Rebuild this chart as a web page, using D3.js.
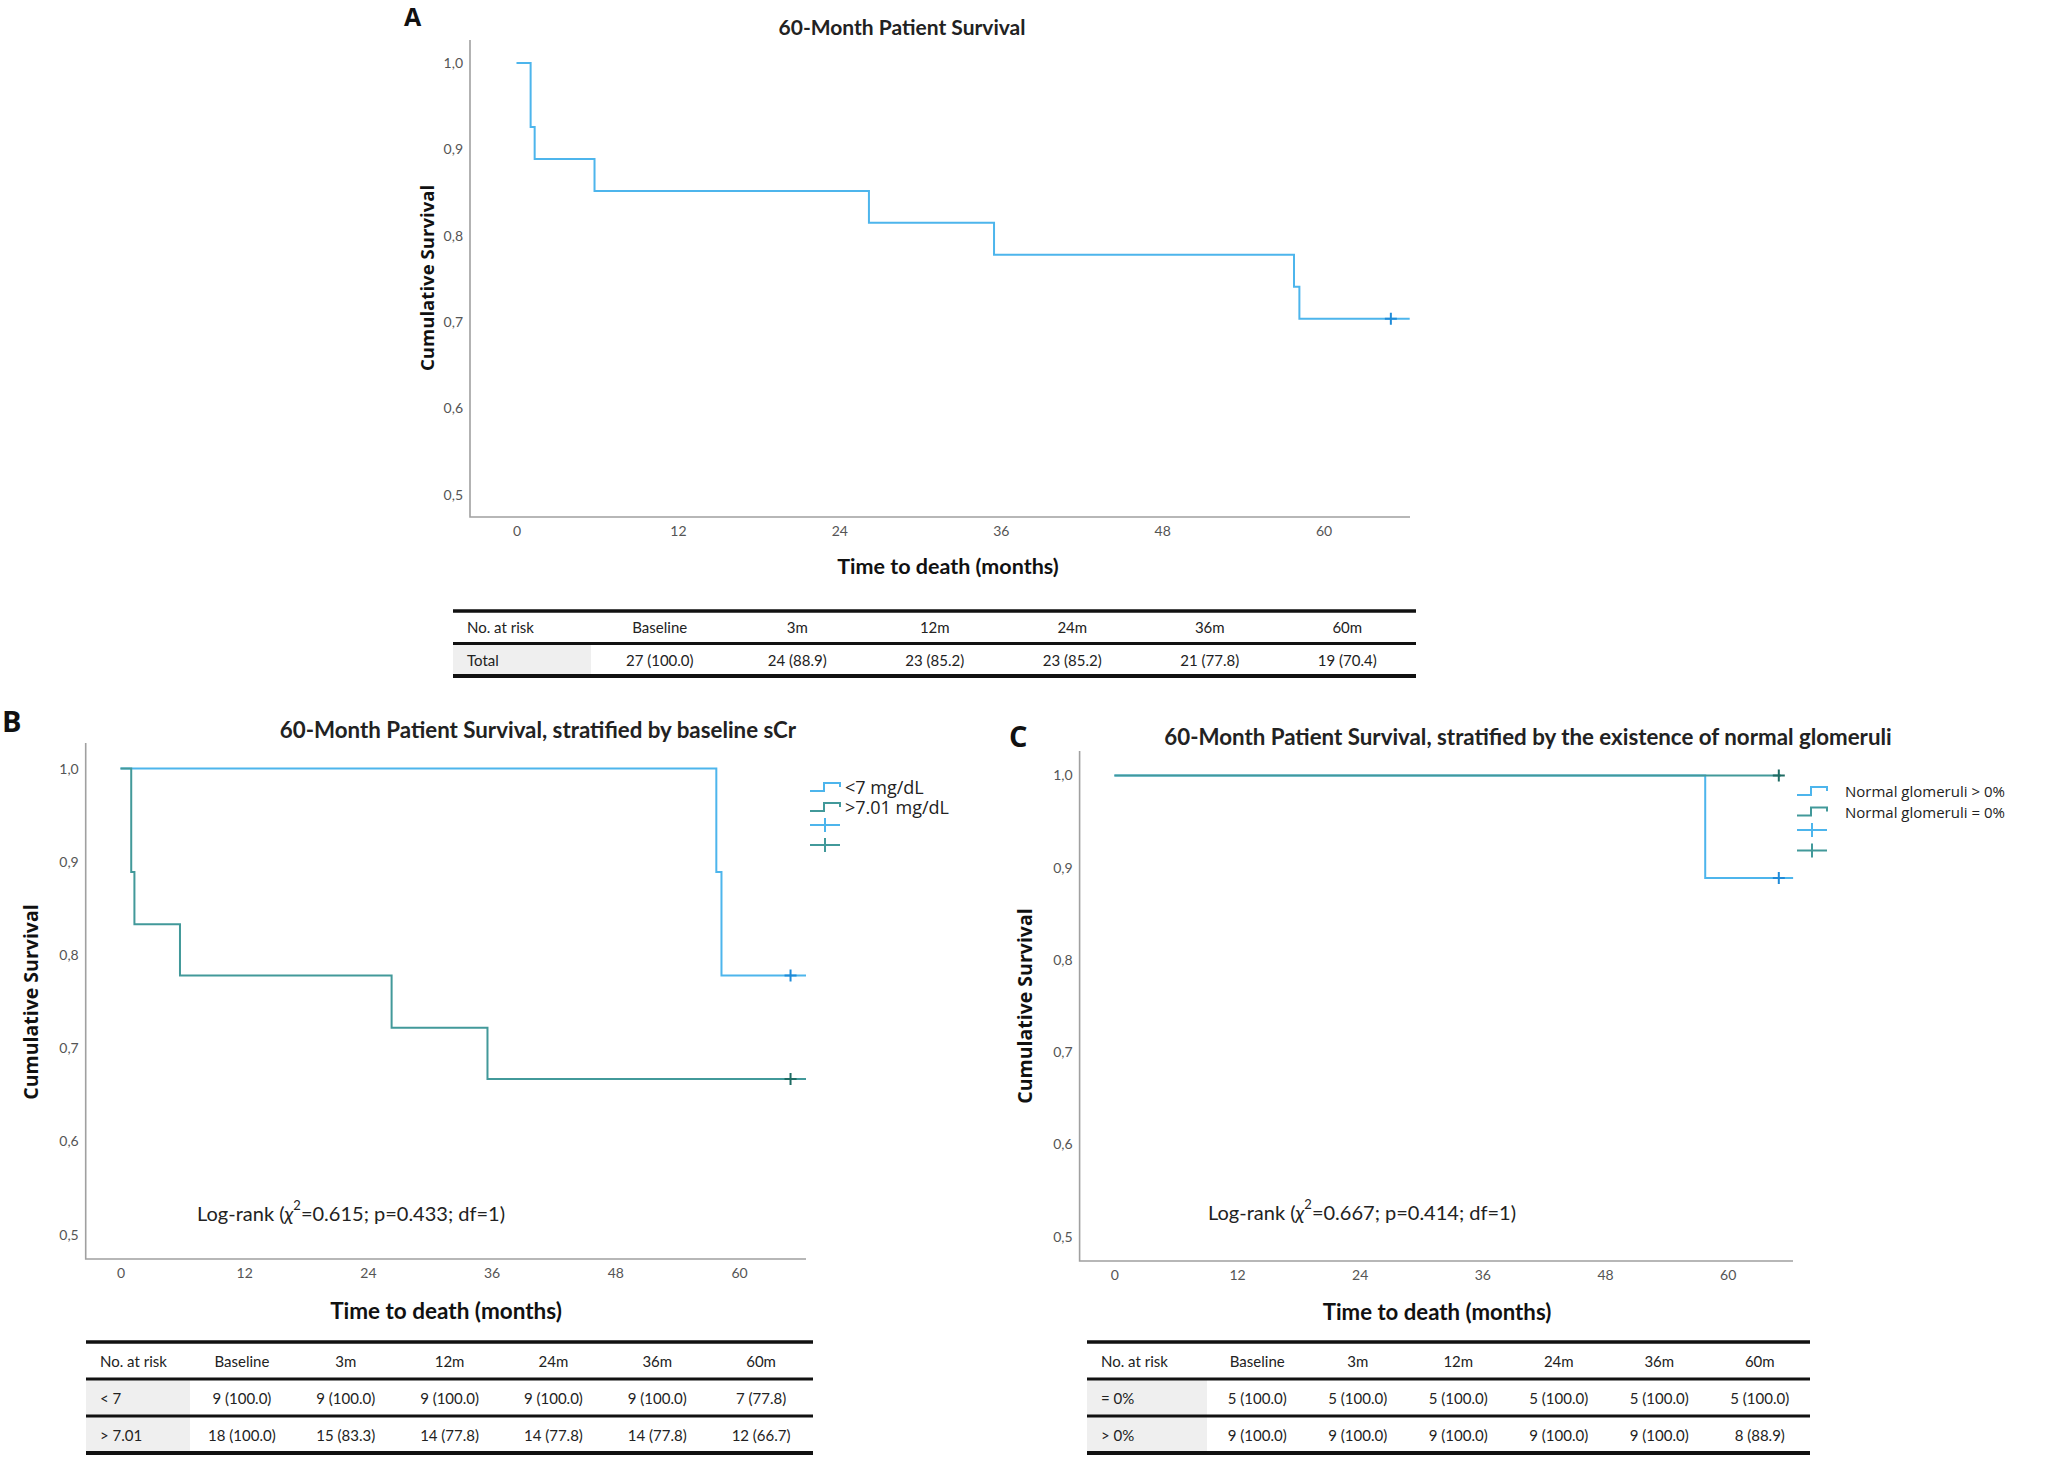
<!DOCTYPE html>
<html>
<head>
<meta charset="utf-8">
<title>60-Month Patient Survival</title>
<script src="https://d3js.org/d3.v7.min.js"></script>
<style>
  body { margin: 0; background: #fff; }
  svg { display: block; }
  .tick text { font-family: Lato, sans-serif; font-size: 14px; fill: #555; }
  .title { font-family: Lato, sans-serif; font-weight: bold; fill: #222; }
  .xtitle { font-family: Lato, sans-serif; font-weight: bold; fill: #111; }
  .ytitle { font-family: "Open Sans", sans-serif; font-weight: bold; fill: #111; }
  .letter { font-family: "Open Sans", sans-serif; font-weight: bold; fill: #111; }
  .legend { font-family: "Open Sans", sans-serif; fill: #222; }
  .logrank { font-family: Lato, sans-serif; font-size: 20px; fill: #222; }
  .cell { font-family: Lato, sans-serif; font-size: 15px; fill: #222; }
</style>
</head>
<body>
<script>
// ---- data ----
const monthTicks = [0, 12, 24, 36, 48, 60];
const survTicks = [0.5, 0.6, 0.7, 0.8, 0.9, 1.0];

// A: whole cohort (n = 27)
const aTimes = [0, 1.05, 1.35, 5.8, 26.2, 35.5, 57.8, 58.2];
const aSurv = [1.0, 0.926, 0.889, 0.852, 0.815, 0.778, 0.741, 0.704];
const aEnd = 66.4;
const aCensor = [65.0];

// B: stratified by baseline sCr
const bLowTimes = [0, 57.8, 58.3];
const bLowSurv = [1.0, 0.889, 0.778];
const bHighTimes = [0, 1.04, 1.35, 5.77, 26.3, 35.6];
const bHighSurv = [1.0, 0.889, 0.833, 0.778, 0.722, 0.667];
const bEnd = 66.5;
const bCensor = [65.0];
const bLegend = ["<7 mg/dL", ">7.01 mg/dL"];

// C: stratified by normal glomeruli
const cPosTimes = [0, 57.8];
const cPosSurv = [1.0, 0.889];
const cPosEnd = 66.4;
const cZeroTimes = [0];
const cZeroSurv = [1.0];
const cZeroEnd = 65.2;
const cCensor = [65.0];
const cLegend = ["Normal glomeruli > 0%", "Normal glomeruli = 0%"];

// number-at-risk tables
const riskHeader = ["No. at risk", "Baseline", "3m", "12m", "24m", "36m", "60m"];
const aRiskLabels = ["Total"];
const aRiskValues = [["27 (100.0)", "24 (88.9)", "23 (85.2)", "23 (85.2)", "21 (77.8)", "19 (70.4)"]];
const bRiskLabels = ["< 7", "> 7.01"];
const bRiskValues = [
  ["9 (100.0)", "9 (100.0)", "9 (100.0)", "9 (100.0)", "9 (100.0)", "7 (77.8)"],
  ["18 (100.0)", "15 (83.3)", "14 (77.8)", "14 (77.8)", "14 (77.8)", "12 (66.7)"]
];
const cRiskLabels = ["= 0%", "> 0%"];
const cRiskValues = [
  ["5 (100.0)", "5 (100.0)", "5 (100.0)", "5 (100.0)", "5 (100.0)", "5 (100.0)"],
  ["9 (100.0)", "9 (100.0)", "9 (100.0)", "9 (100.0)", "9 (100.0)", "8 (88.9)"]
];

const blue = "#4db5ec", blueDark = "#1f8bd8";
const teal = "#42999a", tealDark = "#1e6b63";

const svg = d3.select("body").append("svg")
  .attr("width", 2050)
  .attr("height", 1457);

function fmtComma(d) { return d.toFixed(1).replace(".", ","); }

// one survival plot
function drawPlot(p) {
  const x = d3.scaleLinear().domain([0, 60]).range([p.x0, p.x60]);
  const y = d3.scaleLinear().domain([0.5, 1.0]).range([p.y05, p.y10]);
  const g = svg.append("g");

  // axes lines
  g.append("path")
    .attr("d", `M${p.left},${p.top}V${p.bottom}H${p.right}`)
    .attr("fill", "none").attr("stroke", "#a0a0a0").attr("stroke-width", 1.6);

  const yAxis = d3.axisLeft(y).tickValues(survTicks).tickFormat(fmtComma).tickSize(0).tickPadding(7);
  g.append("g").attr("transform", `translate(${p.left},0)`).call(yAxis)
    .call(s => s.select(".domain").remove());

  const xAxis = d3.axisBottom(x).tickValues(monthTicks).tickSize(0).tickPadding(9);
  g.append("g").attr("transform", `translate(0,${p.bottom})`).call(xAxis)
    .call(s => s.select(".domain").remove());

  // curves
  const line = d3.line().x(d => x(d[0])).y(d => y(d[1])).curve(d3.curveStepAfter);
  p.series.forEach(s => {
    const pts = s.times.map((t, i) => [t, s.surv[i]]);
    pts.push([s.end, s.surv[s.surv.length - 1]]);
    g.append("path").datum(pts)
      .attr("d", line)
      .attr("fill", "none")
      .attr("stroke", s.color)
      .attr("stroke-width", 2);
    s.censor.forEach(c => {
      const cy = y(s.surv[s.surv.length - 1]);
      const cx = x(c);
      g.append("path")
        .attr("d", `M${cx - 6},${cy}H${cx + 6}M${cx},${cy - 6}V${cy + 6}`)
        .attr("stroke", s.censorColor).attr("stroke-width", 2);
    });
  });

  // titles
  svg.append("text").attr("class", "title")
    .attr("x", p.titleX).attr("y", p.titleY)
    .attr("font-size", p.titleSize)
    .attr("text-anchor", "middle").attr("dominant-baseline", "central")
    .text(p.title);
  svg.append("text").attr("class", "xtitle")
    .attr("x", p.xTitleX).attr("y", p.xTitleY)
    .attr("font-size", p.xTitleSize)
    .attr("text-anchor", "middle").attr("dominant-baseline", "central")
    .text("Time to death (months)");
  svg.append("text").attr("class", "ytitle")
    .attr("transform", `translate(${p.yTitleX},${p.yTitleY}) rotate(-90)`)
    .attr("font-size", p.yTitleSize)
    .attr("text-anchor", "middle").attr("dominant-baseline", "central")
    .text("Cumulative Survival");
  svg.append("text").attr("class", "letter")
    .attr("x", p.letterX).attr("y", p.letterY)
    .attr("font-size", p.letterSize)
    .attr("dominant-baseline", "central")
    .text(p.letter);

  if (p.logrank) {
    const t = svg.append("text").attr("class", "logrank")
      .attr("x", p.logX).attr("y", p.logY).attr("dominant-baseline", "central");
    t.append("tspan").text("Log-rank (");
    t.append("tspan").attr("font-style", "italic").text("χ");
    t.append("tspan").attr("font-size", 13).attr("dy", -8).text("2");
    t.append("tspan").attr("dy", 8).text(p.logrank);
  }

  if (p.legend) {
    const lg = svg.append("g");
    p.legend.forEach((name, i) => {
      const s = p.series[i];
      const yy = p.legY + i * p.legGap;
      lg.append("path")
        .attr("d", `M${p.legX},${yy + 4}H${p.legX + 14}V${yy - 4}H${p.legX + 30}V${yy}`)
        .attr("fill", "none").attr("stroke", s.color).attr("stroke-width", 2);
      lg.append("text").attr("class", "legend")
        .attr("x", p.legTextX).attr("y", yy).attr("dominant-baseline", "central")
        .attr("font-size", p.legSize)
        .text(name);
    });
    p.legend.forEach((name, i) => {
      const s = p.series[i];
      const yy = p.legY + (i + 2) * p.legGap - 2;
      const cx = p.legX + 15;
      lg.append("path")
        .attr("d", `M${p.legX},${yy}H${p.legX + 30}M${cx},${yy - 7}V${yy + 7}`)
        .attr("stroke", s.color).attr("stroke-width", 2);
    });
  }
}

// number at risk table
function drawTable(t) {
  const rows = ["header"].concat(t.labels);
  const ry = d3.scaleBand().domain(rows).range([t.top, t.bottom]);
  const cx = d3.scaleBand().domain(riskHeader.slice(1)).range([t.labelRight, t.right]);
  const g = svg.append("g");

  t.labels.forEach(l => {
    g.append("rect")
      .attr("x", t.left).attr("y", ry(l))
      .attr("width", t.labelRight - t.left).attr("height", ry.bandwidth())
      .attr("fill", "#efefef");
  });

  g.append("text").attr("class", "cell")
    .attr("x", t.left + 14).attr("y", ry("header") + ry.bandwidth() / 2)
    .attr("dominant-baseline", "central").text(riskHeader[0]);
  riskHeader.slice(1).forEach(h => {
    g.append("text").attr("class", "cell")
      .attr("x", cx(h) + cx.bandwidth() / 2).attr("y", ry("header") + ry.bandwidth() / 2)
      .attr("text-anchor", "middle").attr("dominant-baseline", "central").text(h);
  });
  t.labels.forEach((l, i) => {
    const yy = ry(l) + ry.bandwidth() / 2;
    g.append("text").attr("class", "cell")
      .attr("x", t.left + 14).attr("y", yy)
      .attr("dominant-baseline", "central").text(l);
    riskHeader.slice(1).forEach((h, j) => {
      g.append("text").attr("class", "cell")
        .attr("x", cx(h) + cx.bandwidth() / 2).attr("y", yy)
        .attr("text-anchor", "middle").attr("dominant-baseline", "central")
        .text(t.values[i][j]);
    });
  });

  // rules
  rows.forEach((r, i) => {
    g.append("line")
      .attr("x1", t.left).attr("x2", t.right)
      .attr("y1", ry(r)).attr("y2", ry(r))
      .attr("stroke", "#111").attr("stroke-width", i === 0 ? 3.5 : 3);
  });
  g.append("line")
    .attr("x1", t.left).attr("x2", t.right)
    .attr("y1", t.bottom).attr("y2", t.bottom)
    .attr("stroke", "#111").attr("stroke-width", 4);
}

// ---- panel A ----
drawPlot({
  left: 470, right: 1410, top: 40, bottom: 517,
  x0: 516.5, x60: 1323.6, y05: 494.8, y10: 63.1,
  series: [{ times: aTimes, surv: aSurv, end: aEnd, censor: aCensor, color: blue, censorColor: blueDark }],
  title: "60-Month Patient Survival", titleX: 902, titleY: 26, titleSize: 21,
  xTitleX: 948, xTitleY: 566, xTitleSize: 21.5,
  yTitleX: 426, yTitleY: 278, yTitleSize: 18.6,
  letter: "A", letterX: 404, letterY: 16, letterSize: 25
});
drawTable({ left: 453, right: 1416, labelRight: 591, top: 611, bottom: 676,
  labels: aRiskLabels, values: aRiskValues });

// ---- panel B ----
drawPlot({
  left: 85.7, right: 806, top: 743, bottom: 1259,
  x0: 120.5, x60: 739, y05: 1234.7, y10: 768.6,
  series: [
    { times: bLowTimes, surv: bLowSurv, end: bEnd, censor: bCensor, color: blue, censorColor: blueDark },
    { times: bHighTimes, surv: bHighSurv, end: bEnd, censor: bCensor, color: teal, censorColor: tealDark }
  ],
  title: "60-Month Patient Survival, stratified by baseline sCr", titleX: 538, titleY: 729, titleSize: 22.3,
  xTitleX: 446, xTitleY: 1310, xTitleSize: 22.5,
  yTitleX: 30, yTitleY: 1002, yTitleSize: 19.5,
  letter: "B", letterX: 2, letterY: 720, letterSize: 29,
  logrank: "=0.615; p=0.433; df=1)", logX: 197, logY: 1213,
  legend: bLegend, legX: 810, legTextX: 845, legY: 787, legGap: 20, legSize: 18
});
drawTable({ left: 86, right: 813, labelRight: 190, top: 1342, bottom: 1453,
  labels: bRiskLabels, values: bRiskValues });

// ---- panel C ----
drawPlot({
  left: 1079.6, right: 1793, top: 751, bottom: 1261,
  x0: 1114.4, x60: 1727.7, y05: 1236.7, y10: 775.5,
  series: [
    { times: cPosTimes, surv: cPosSurv, end: cPosEnd, censor: cCensor, color: blue, censorColor: blueDark },
    { times: cZeroTimes, surv: cZeroSurv, end: cZeroEnd, censor: cCensor, color: teal, censorColor: tealDark }
  ],
  title: "60-Month Patient Survival, stratified by the existence of normal glomeruli", titleX: 1528, titleY: 736, titleSize: 22.3,
  xTitleX: 1437, xTitleY: 1311, xTitleSize: 22.2,
  yTitleX: 1024, yTitleY: 1006, yTitleSize: 19.5,
  letter: "C", letterX: 1009, letterY: 735, letterSize: 29,
  logrank: "=0.667; p=0.414; df=1)", logX: 1208, logY: 1212,
  legend: cLegend, legX: 1797, legTextX: 1845, legY: 791, legGap: 20.5, legSize: 15
});
drawTable({ left: 1087, right: 1810, labelRight: 1207, top: 1342, bottom: 1453,
  labels: cRiskLabels, values: cRiskValues });
</script>
</body>
</html>
